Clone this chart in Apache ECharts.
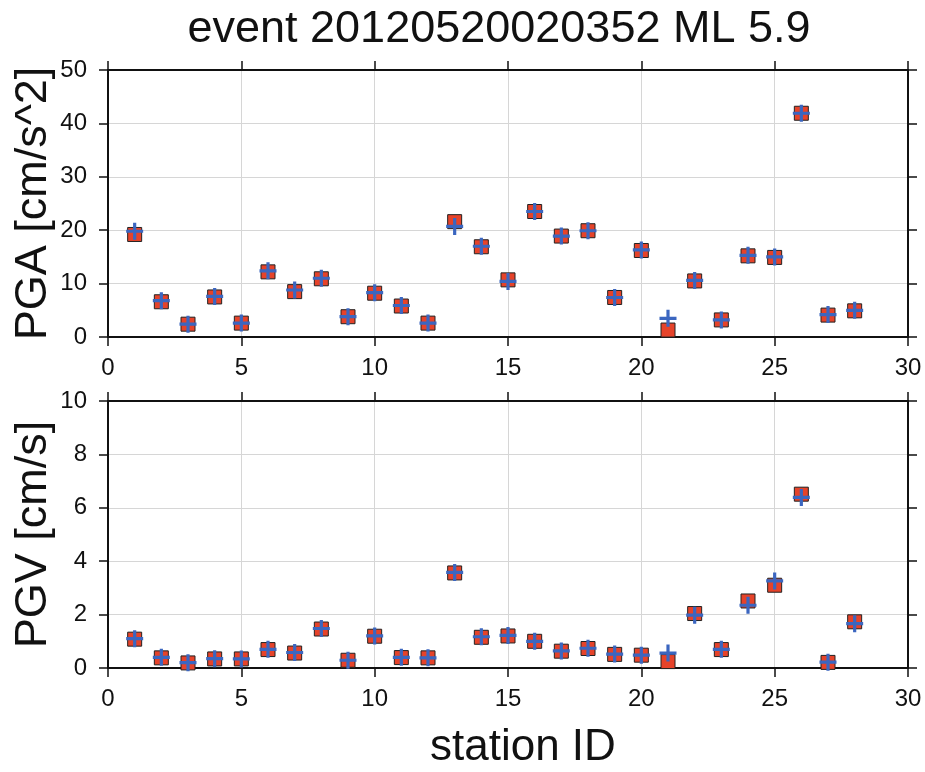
<!DOCTYPE html>
<html>
<head>
<meta charset="utf-8">
<script src="https://cdn.jsdelivr.net/npm/echarts@6/dist/echarts.min.js"></script>
<style>
  html, body { margin: 0; padding: 0; background: #fff; }
  #chart { width: 925px; height: 772px; }
</style>
</head>
<body>
<div id="chart"></div>
<script>
  // station IDs and measured / predicted ground motion
  const stations = [1, 2, 3, 4, 5, 6, 7, 8, 9, 10, 11, 12, 13, 14, 15, 16, 17, 18, 19, 20, 21, 22, 23, 24, 25, 26, 27, 28];
  const pgaObs = [19.2, 6.6, 2.4, 7.5, 2.6, 12.2, 8.5, 10.9, 3.8, 8.2, 5.8, 2.6, 21.6, 16.9, 10.7, 23.5, 18.9, 19.9, 7.4, 16.2, 1.3, 10.5, 3.2, 15.2, 14.9, 41.9, 4.1, 4.9];
  const pgaPred = [19.8, 6.8, 2.4, 7.6, 2.6, 12.4, 8.8, 11.0, 3.8, 8.3, 5.9, 2.6, 20.7, 17.0, 10.4, 23.5, 18.9, 19.9, 7.4, 16.3, 3.5, 10.6, 3.2, 15.3, 15.0, 41.9, 4.2, 5.0];
  const pgvObs = [1.08, 0.38, 0.19, 0.34, 0.34, 0.69, 0.56, 1.46, 0.29, 1.19, 0.39, 0.38, 3.56, 1.15, 1.2, 1.0, 0.63, 0.73, 0.51, 0.48, 0.24, 2.04, 0.69, 2.51, 3.1, 6.51, 0.21, 1.73];
  const pgvPred = [1.1, 0.4, 0.2, 0.35, 0.34, 0.7, 0.58, 1.48, 0.29, 1.2, 0.4, 0.38, 3.58, 1.17, 1.22, 1.0, 0.64, 0.74, 0.52, 0.48, 0.56, 1.98, 0.7, 2.35, 3.26, 6.39, 0.22, 1.66];

  const FONT = 'Liberation Sans, Helvetica, Arial, sans-serif';
  const RED = '#e6432a';
  const BLUE = '#3b66c0';
  const CROSS = 'path://M6.5,0h3v6.5h6.5v3h-6.5v6.5h-3v-6.5h-6.5v-3h6.5z';

  function pairs (ys) {
    let out = [];
    for (let i = 0; i < stations.length; i++) {
      out.push([stations[i], ys[i]]);
    }
    return out;
  }

  const frameLine = { show: true, onZero: false, lineStyle: { color: '#111', width: 2 } };
  const frameTick = { show: true, length: 9, lineStyle: { color: '#111', width: 1.5 } };

  function xAxes (gridIndex) {
    return [
      {
        gridIndex: gridIndex,
        type: 'value',
        position: 'bottom',
        min: 0,
        max: 30,
        interval: 5,
        axisLine: frameLine,
        axisTick: frameTick,
        axisLabel: { color: '#111', fontSize: 24, fontFamily: FONT, margin: 19, showMinLabel: true, showMaxLabel: true },
        splitLine: { show: true, lineStyle: { color: '#d6d6d6', width: 1 } }
      },
      {
        gridIndex: gridIndex,
        type: 'value',
        position: 'top',
        min: 0,
        max: 30,
        interval: 5,
        axisLine: frameLine,
        axisTick: frameTick,
        axisLabel: { show: false },
        splitLine: { show: false }
      }
    ];
  }

  function yAxes (gridIndex, max, interval, name) {
    return [
      {
        gridIndex: gridIndex,
        type: 'value',
        position: 'left',
        min: 0,
        max: max,
        interval: interval,
        name: name,
        nameLocation: 'middle',
        nameGap: 52,
        nameMoveOverlap: false,
        nameTextStyle: { color: '#111', fontSize: 45, fontFamily: FONT },
        axisLine: frameLine,
        axisTick: frameTick,
        axisLabel: { color: '#111', fontSize: 24, fontFamily: FONT, margin: 21, showMinLabel: true, showMaxLabel: true },
        splitLine: { show: true, lineStyle: { color: '#d6d6d6', width: 1 } }
      },
      {
        gridIndex: gridIndex,
        type: 'value',
        position: 'right',
        min: 0,
        max: max,
        interval: interval,
        axisLine: frameLine,
        axisTick: frameTick,
        axisLabel: { show: false },
        splitLine: { show: false }
      }
    ];
  }

  function squares (xi, yi, data) {
    return {
      type: 'scatter',
      xAxisIndex: xi,
      yAxisIndex: yi,
      symbol: 'rect',
      symbolSize: 14,
      itemStyle: { color: RED, borderColor: '#222', borderWidth: 1, opacity: 1 },
      data: pairs(data),
      z: 2
    };
  }

  function crosses (xi, yi, data) {
    return {
      type: 'scatter',
      xAxisIndex: xi,
      yAxisIndex: yi,
      symbol: CROSS,
      symbolSize: 17,
      itemStyle: { color: BLUE, opacity: 1 },
      data: pairs(data),
      z: 3
    };
  }

  let myChart = echarts.init(document.getElementById('chart'), null, { renderer: 'canvas' });
  myChart.setOption({
    animation: false,
    backgroundColor: '#fff',
    title: {
      text: 'event 20120520020352 ML 5.9',
      left: 494,
      textAlign: 'center',
      top: 2,
      textStyle: { color: '#111', fontSize: 45, fontWeight: 'normal', fontFamily: FONT }
    },
    grid: [
      { left: 108, top: 70, width: 800, height: 267, outerBoundsMode: 'none', containLabel: false },
      { left: 108, top: 401, width: 800, height: 267, outerBoundsMode: 'none', containLabel: false }
    ],
    xAxis: xAxes(0).concat(xAxes(1)),
    yAxis: yAxes(0, 50, 10, 'PGA [cm/s^2]').concat(yAxes(1, 10, 2, 'PGV [cm/s]')),
    graphic: [
      {
        type: 'text',
        left: 430,
        top: 726,
        style: { text: 'station ID', fill: '#111', fontSize: 44, fontFamily: FONT }
      }
    ],
    series: [
      squares(0, 0, pgaObs),
      crosses(0, 0, pgaPred),
      squares(2, 2, pgvObs),
      crosses(2, 2, pgvPred)
    ]
  });
</script>
</body>
</html>
